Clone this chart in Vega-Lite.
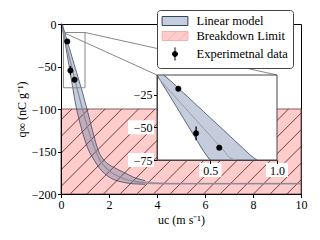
{
  "$schema": "https://vega.github.io/schema/vega-lite/v6.json",
  "width": 240,
  "height": 170,
  "autosize": "none",
  "padding": {"left": 61, "top": 24, "right": 19, "bottom": 46},
  "background": "white",
  "config": {
    "view": {"stroke": "black", "strokeWidth": 1},
    "font": "Liberation Serif",
    "axis": {"labelFont": "Liberation Serif", "labelFontSize": 12, "labelColor": "black", "titleFont": "Liberation Serif", "titleFontSize": 12, "titleFontWeight": "normal", "titleColor": "black", "domainColor": "black", "tickColor": "black", "tickSize": 3.5, "grid": false, "labelPadding": 1.5, "labelFlush": false, "labelOverlap": false}
  },
  "datasets": {
    "band": [
      {"u": 0, "lo": 0, "hi": 0, "mid": 0},
      {"u": 0.05, "lo": -1.7, "hi": 0, "mid": -5.7},
      {"u": 0.1, "lo": -10, "hi": -4.8, "mid": -11.3},
      {"u": 0.15, "lo": -18.4, "hi": -9.5, "mid": -17},
      {"u": 0.2, "lo": -26.7, "hi": -14.3, "mid": -22.6},
      {"u": 0.25, "lo": -35, "hi": -19, "mid": -28.3},
      {"u": 0.3, "lo": -43.4, "hi": -23.8, "mid": -33.9},
      {"u": 0.35, "lo": -51.8, "hi": -28.5, "mid": -39.6},
      {"u": 0.4, "lo": -60, "hi": -33.3, "mid": -45.2},
      {"u": 0.45, "lo": -68.5, "hi": -38, "mid": -50.9},
      {"u": 0.5, "lo": -76.8, "hi": -42.8, "mid": -56.5},
      {"u": 0.55, "lo": -85, "hi": -47.5, "mid": -62.2},
      {"u": 0.6, "lo": -93, "hi": -52.3, "mid": -67.8},
      {"u": 0.65, "lo": -100, "hi": -57, "mid": -73.5},
      {"u": 0.7, "lo": -106.5, "hi": -61.8, "mid": -79},
      {"u": 0.75, "lo": -112, "hi": -66.5, "mid": -84.5},
      {"u": 0.8, "lo": -117.5, "hi": -71.3, "mid": -90},
      {"u": 0.85, "lo": -123, "hi": -76, "mid": -95.5},
      {"u": 0.9, "lo": -128, "hi": -80.8, "mid": -101},
      {"u": 0.95, "lo": -132.5, "hi": -86, "mid": -106},
      {"u": 1.0, "lo": -137, "hi": -91.5, "mid": -111},
      {"u": 1.1, "lo": -145, "hi": -102, "mid": -121},
      {"u": 1.2, "lo": -151.5, "hi": -113, "mid": -130},
      {"u": 1.3, "lo": -156.5, "hi": -124, "mid": -138.5},
      {"u": 1.4, "lo": -161, "hi": -134.5, "mid": -146},
      {"u": 1.5, "lo": -165.5, "hi": -144.5, "mid": -153},
      {"u": 1.6, "lo": -169.5, "hi": -152, "mid": -159},
      {"u": 1.7, "lo": -172.8, "hi": -157, "mid": -163.5},
      {"u": 1.8, "lo": -175.5, "hi": -160.5, "mid": -167},
      {"u": 1.9, "lo": -178, "hi": -163.2, "mid": -170},
      {"u": 2.0, "lo": -180, "hi": -165.5, "mid": -172.5},
      {"u": 2.2, "lo": -183, "hi": -168.7, "mid": -176.5},
      {"u": 2.4, "lo": -185, "hi": -171.6, "mid": -179.5},
      {"u": 2.6, "lo": -186.3, "hi": -174.4, "mid": -181.8},
      {"u": 2.8, "lo": -187.3, "hi": -177.2, "mid": -183.5},
      {"u": 3.0, "lo": -188, "hi": -180, "mid": -184.8},
      {"u": 3.25, "lo": -188.3, "hi": -182.5, "mid": -186},
      {"u": 3.5, "lo": -188.6, "hi": -184.3, "mid": -186.8},
      {"u": 4.0, "lo": -188.8, "hi": -186.2, "mid": -187.5},
      {"u": 5.0, "lo": -188.9, "hi": -186.8, "mid": -187.8},
      {"u": 6.0, "lo": -188.9, "hi": -186.8, "mid": -187.8},
      {"u": 8.0, "lo": -188.9, "hi": -186.8, "mid": -187.8},
      {"u": 10.0, "lo": -188.9, "hi": -186.8, "mid": -187.8}
    ],
    "exp": [
      {"u": 0.26, "q": -20.5, "qlo": -22, "qhi": -19},
      {"u": 0.393, "q": -54.6, "qlo": -59.9, "qhi": -49.3},
      {"u": 0.567, "q": -65.6, "qlo": -67.1, "qhi": -64.1}
    ],
    "limit": [{"u0": 0, "u1": 10, "q0": -200, "q1": -100}],
    "hatch": [
      {"a": -3.090, "b": 0.452}, {"a": -2.396, "b": 1.146}, {"a": -1.701, "b": 1.841},
      {"a": -1.007, "b": 2.535}, {"a": -0.312, "b": 3.230}, {"a": 0.382, "b": 3.924},
      {"a": 1.076, "b": 4.618}, {"a": 1.771, "b": 5.313}, {"a": 2.465, "b": 6.007},
      {"a": 3.160, "b": 6.702}, {"a": 3.854, "b": 7.396}, {"a": 4.549, "b": 8.091},
      {"a": 5.243, "b": 8.785}, {"a": 5.938, "b": 9.480}, {"a": 6.632, "b": 10.174},
      {"a": 7.326, "b": 10.868}, {"a": 8.021, "b": 11.563}, {"a": 8.715, "b": 12.257},
      {"a": 9.410, "b": 12.952}
    ],
    "zoombox": [{"u0": 0.1, "u1": 1.0, "q0": -75, "q1": -10}],
    "connectors": [{"u": 0.1, "q": -10, "u2": 4, "q2": -60}, {"u": 1.0, "q": -10, "u2": 9, "q2": -60}],
    "legend": [{"series": "Linear model"}, {"series": "Breakdown Limit"}, {"series": "Experimetnal data"}],
    "xticks": [{"v": 0.5}, {"v": 1.0}],
    "yticks": [{"v": -25}, {"v": -50}, {"v": -75}]
  },
  "layer": [
    {
      "layer": [
        {
          "data": {"name": "limit"},
          "mark": {"type": "rect", "fill": "#ffcccc", "stroke": "#8b5656", "strokeWidth": 1},
          "encoding": {
            "x": {"field": "u0", "type": "quantitative", "scale": {"domain": [0, 10], "nice": false, "zero": false}, "axis": {"orient": "bottom", "values": [0, 2, 4, 6, 8, 10], "title": "uc (m s⁻¹)", "titlePadding": 4, "zindex": 1}},
            "x2": {"field": "u1"},
            "y": {"field": "q0", "type": "quantitative", "scale": {"domain": [-200, 0], "nice": false}, "axis": {"orient": "left", "values": [0, -50, -100, -150, -200], "title": "q∞ (nC g⁻¹)", "titlePadding": 3, "zindex": 1}},
            "y2": {"field": "q1"}
          }
        },
        {
          "data": {"name": "hatch"},
          "mark": {"type": "rule", "stroke": "#6b2a2a", "strokeWidth": 0.9, "clip": true},
          "encoding": {
            "x": {"field": "a", "type": "quantitative"},
            "x2": {"field": "b"},
            "y": {"datum": -200, "type": "quantitative"},
            "y2": {"datum": -100}
          }
        },
        {
          "data": {"name": "band"},
          "mark": {"type": "area", "fill": "#59709b", "fillOpacity": 0.35, "interpolate": "monotone"},
          "encoding": {
            "x": {"field": "u", "type": "quantitative"},
            "y": {"field": "lo", "type": "quantitative"},
            "y2": {"field": "hi"}
          }
        },
        {
          "data": {"name": "band"},
          "transform": [{"filter": "datum.u <= 3.5"}],
          "mark": {"type": "line", "stroke": "#34435e", "strokeOpacity": 0.85, "strokeWidth": 0.9, "interpolate": "monotone"},
          "encoding": {
            "x": {"field": "u", "type": "quantitative"},
            "y": {"field": "lo", "type": "quantitative"}
          }
        },
        {
          "data": {"name": "band"},
          "transform": [{"filter": "datum.u <= 3.5"}],
          "mark": {"type": "line", "stroke": "#34435e", "strokeOpacity": 0.85, "strokeWidth": 0.9, "interpolate": "monotone"},
          "encoding": {
            "x": {"field": "u", "type": "quantitative"},
            "y": {"field": "hi", "type": "quantitative"}
          }
        },
        {
          "data": {"name": "band"},
          "mark": {"type": "line", "stroke": "#8c8c99", "strokeWidth": 1.2, "interpolate": "monotone"},
          "encoding": {
            "x": {"field": "u", "type": "quantitative"},
            "y": {"field": "mid", "type": "quantitative"}
          }
        },
        {
          "data": {"name": "exp"},
          "mark": {"type": "rule", "stroke": "black", "strokeWidth": 1.3},
          "encoding": {
            "x": {"field": "u", "type": "quantitative"},
            "y": {"field": "qlo", "type": "quantitative"},
            "y2": {"field": "qhi"}
          }
        },
        {
          "data": {"name": "exp"},
          "mark": {"type": "point", "shape": "circle", "filled": true, "fill": "black", "stroke": "black", "strokeWidth": 0.5, "size": 30, "opacity": 1},
          "encoding": {
            "x": {"field": "u", "type": "quantitative"},
            "y": {"field": "q", "type": "quantitative"}
          }
        },
        {
          "data": {"name": "zoombox"},
          "mark": {"type": "rect", "fillOpacity": 0, "fill": "white", "stroke": "#888888", "strokeWidth": 1},
          "encoding": {
            "x": {"field": "u0", "type": "quantitative"},
            "x2": {"field": "u1"},
            "y": {"field": "q0", "type": "quantitative"},
            "y2": {"field": "q1"}
          }
        },
        {
          "data": {"name": "connectors"},
          "mark": {"type": "rule", "stroke": "#888888", "strokeWidth": 1},
          "encoding": {
            "x": {"field": "u", "type": "quantitative"},
            "x2": {"field": "u2"},
            "y": {"field": "q", "type": "quantitative"},
            "y2": {"field": "q2"}
          }
        },
        {
          "data": {"name": "legend"},
          "mark": {"type": "point", "filled": true, "opacity": 1, "size": 10, "clip": true},
          "encoding": {
            "x": {"datum": -50, "type": "quantitative"},
            "y": {"datum": -50, "type": "quantitative"},
            "fill": {
              "field": "series", "type": "nominal",
              "scale": {"domain": ["Linear model", "Breakdown Limit", "Experimetnal data"], "range": ["#c5cedd", "#ffcccc", "#000000"]},
              "legend": {"orient": "none", "legendX": 96, "legendY": -14, "title": null, "padding": 4.5, "rowPadding": 2, "symbolSize": 144, "symbolStrokeWidth": 1, "symbolOffset": 7, "labelOffset": 15, "labelFont": "Liberation Serif", "labelFontSize": 12.5, "labelColor": "black", "fillColor": "white", "strokeColor": "#444444", "cornerRadius": 3, "symbolOpacity": 1}
            },
            "stroke": {
              "field": "series", "type": "nominal",
              "scale": {"domain": ["Linear model", "Breakdown Limit", "Experimetnal data"], "range": ["#34435e", "#f2b0b0", "#000000"]}
            },
            "shape": {
              "field": "series", "type": "nominal",
              "scale": {"domain": ["Linear model", "Breakdown Limit", "Experimetnal data"], "range": ["M-2.15,-0.75H2.15V0.75H-2.15Z", "M-2.15,-0.75H2.15V0.75H-2.15Z M-1.2,0.75L0.3,-0.75 M0.6,0.75L2.1,-0.75", "M0,-1.1V1.1 M0.42,0A0.42,0.42 0 1,1 -0.42,0A0.42,0.42 0 1,1 0.42,0Z"]}
            }
          }
        }
      ]
    },
    {
      "layer": [
        {
          "data": {"name": "zoombox"},
          "mark": {"type": "rect", "fill": "white", "stroke": "#444444", "strokeWidth": 1},
          "encoding": {
            "x": {"field": "u0", "type": "quantitative", "scale": {"domain": [0.1, 1.0], "range": [96, 216], "nice": false, "zero": false}, "axis": {"orient": "bottom", "offset": -34, "values": [0.5, 1.0], "format": ".1f", "title": null, "domainColor": "#444444", "zindex": 2}},
            "x2": {"field": "u1"},
            "y": {"field": "q0", "type": "quantitative", "scale": {"domain": [-75, -10], "range": [136, 51], "nice": false, "zero": false, "clamp": true}, "axis": {"orient": "left", "offset": -96, "values": [-25, -50, -75], "title": null, "domainColor": "#444444", "zindex": 2}},
            "y2": {"field": "q1"}
          }
        },
        {
          "data": {"name": "band"},
          "transform": [{"filter": "datum.u >= 0.1 && datum.u <= 0.85"}],
          "mark": {"type": "area", "fill": "#59709b", "fillOpacity": 0.35, "interpolate": "monotone"},
          "encoding": {
            "x": {"field": "u", "type": "quantitative"},
            "y": {"field": "lo", "type": "quantitative"},
            "y2": {"field": "hi"}
          }
        },
        {
          "data": {"name": "band"},
          "transform": [{"filter": "datum.u >= 0.1 && datum.u <= 0.5"}],
          "mark": {"type": "line", "stroke": "#34435e", "strokeOpacity": 0.85, "strokeWidth": 0.9, "interpolate": "monotone"},
          "encoding": {
            "x": {"field": "u", "type": "quantitative"},
            "y": {"field": "lo", "type": "quantitative"}
          }
        },
        {
          "data": {"name": "band"},
          "transform": [{"filter": "datum.u >= 0.15 && datum.u <= 0.85"}],
          "mark": {"type": "line", "stroke": "#34435e", "strokeOpacity": 0.85, "strokeWidth": 0.9, "interpolate": "monotone"},
          "encoding": {
            "x": {"field": "u", "type": "quantitative"},
            "y": {"field": "hi", "type": "quantitative"}
          }
        },
        {
          "data": {"name": "band"},
          "transform": [{"filter": "datum.u >= 0.1 && datum.u <= 0.7"}],
          "mark": {"type": "line", "stroke": "#9a9aa6", "strokeWidth": 1, "interpolate": "monotone"},
          "encoding": {
            "x": {"field": "u", "type": "quantitative"},
            "y": {"field": "mid", "type": "quantitative"}
          }
        },
        {
          "data": {"name": "exp"},
          "mark": {"type": "rule", "stroke": "black", "strokeWidth": 1.3},
          "encoding": {
            "x": {"field": "u", "type": "quantitative"},
            "y": {"field": "qlo", "type": "quantitative"},
            "y2": {"field": "qhi"}
          }
        },
        {
          "data": {"name": "exp"},
          "mark": {"type": "point", "shape": "circle", "filled": true, "fill": "black", "stroke": "black", "strokeWidth": 0.5, "size": 30, "opacity": 1},
          "encoding": {
            "x": {"field": "u", "type": "quantitative"},
            "y": {"field": "q", "type": "quantitative"}
          }
        }
      ]
    },
    {
      "layer": [
        {
          "data": {"name": "xticks"},
          "mark": {"type": "point", "filled": true, "fill": "white", "strokeWidth": 0, "opacity": 1, "shape": "M-1,-0.64H1V0.64H-1Z", "size": 484},
          "encoding": {
            "x": {"field": "v", "type": "quantitative", "scale": {"domain": [0.1, 1.0], "range": [96, 216], "nice": false, "zero": false}, "axis": null},
            "y": {"datum": -82.6, "type": "quantitative", "scale": {"domain": [-75, -10], "range": [136, 51], "nice": false, "zero": false}, "axis": null}
          }
        },
        {
          "data": {"name": "yticks"},
          "mark": {"type": "point", "filled": true, "fill": "white", "strokeWidth": 0, "opacity": 1, "shape": "M-1,-0.54H1V0.54H-1Z", "size": 676},
          "encoding": {
            "x": {"datum": -0.02, "type": "quantitative"},
            "y": {"field": "v", "type": "quantitative"}
          }
        }
      ]
    }
  ],
  "resolve": {"scale": {"x": "independent", "y": "independent"}, "axis": {"x": "independent", "y": "independent"}}
}
